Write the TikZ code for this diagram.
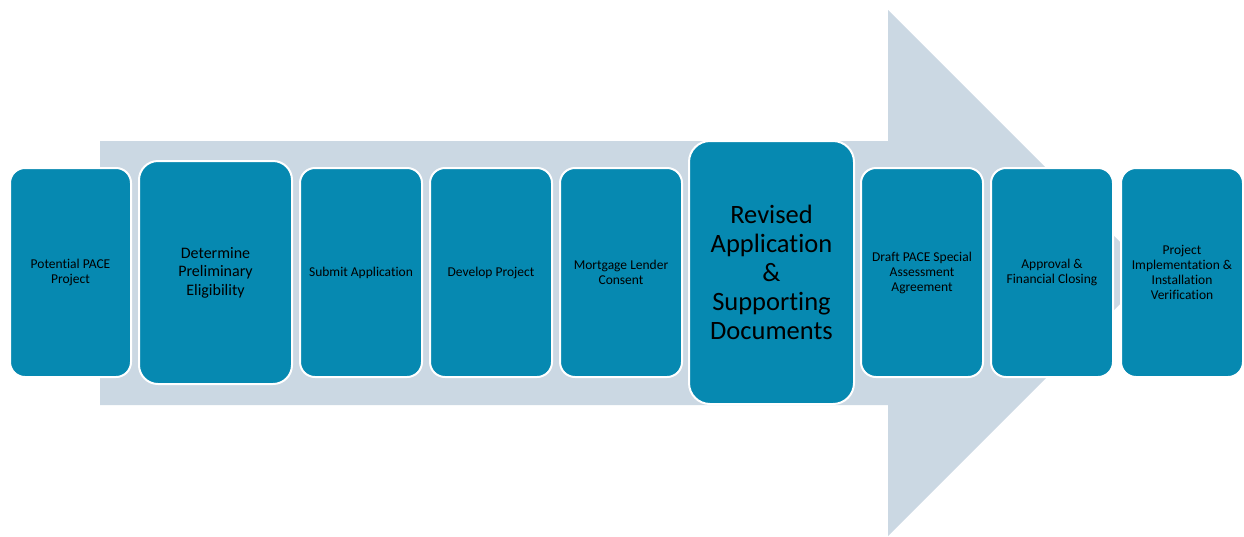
\documentclass[tikz,border=0pt]{standalone}
\usepackage{fontspec}
\setmainfont{Carlito}[Ligatures={NoCommon}]
\usetikzlibrary{positioning}
\definecolor{paceteal}{RGB}{6,137,177}
\definecolor{pacegray}{RGB}{203,216,227}
\tikzset{
    stepbox/.style={draw=white, line width=2pt, fill=paceteal, rounded corners=15pt,
        minimum width=122pt, minimum height=209pt, inner sep=2pt, outer sep=0pt,
        align=center, text=black, font=\fontsize{13.5}{15}\selectfont},
    midbox/.style={stepbox, rounded corners=19pt, minimum width=153pt, minimum height=223pt,
        font=\fontsize{16}{18.5}\selectfont},
    bigbox/.style={stepbox, rounded corners=21pt, minimum width=165pt, minimum height=263pt,
        font=\fontsize{26.5}{29}\selectfont}
}

\begin{document}
\begin{tikzpicture}[x=1pt, y=-1pt, node distance=8pt]
    \useasboundingbox (0, 0) rectangle (1244, 536);
    % Background arrow
    \fill[pacegray] (100, 141) -- (888, 141) -- (888, 10) -- (1151, 273)
        -- (888, 536) -- (888, 405) -- (100, 405) -- cycle;
    % Process steps
    \node[stepbox, minimum width=121pt] (potential) at (70.5, 272.5) {Potential PACE\\Project};
    \node[midbox, right=of potential] (eligibility) {Determine\\Preliminary\\Eligibility};
    \node[stepbox, right=of eligibility] (submit) {Submit Application};
    \node[stepbox, right=of submit] (develop) {Develop Project};
    \node[stepbox, right=of develop] (consent) {Mortgage Lender\\Consent};
    \node[bigbox, right=7pt of consent] (revised) {Revised\\Application\\\&\\Supporting\\Documents};
    \node[stepbox, right=7pt of revised] (draft) {Draft PACE Special\\Assessment\\Agreement};
    \node[stepbox, right=of draft] (approval) {Approval \&\\Financial Closing};
    \node[stepbox, right=8pt of approval] (implement) {Project\\Implementation \&\\Installation\\Verification};
\end{tikzpicture}
\end{document}
